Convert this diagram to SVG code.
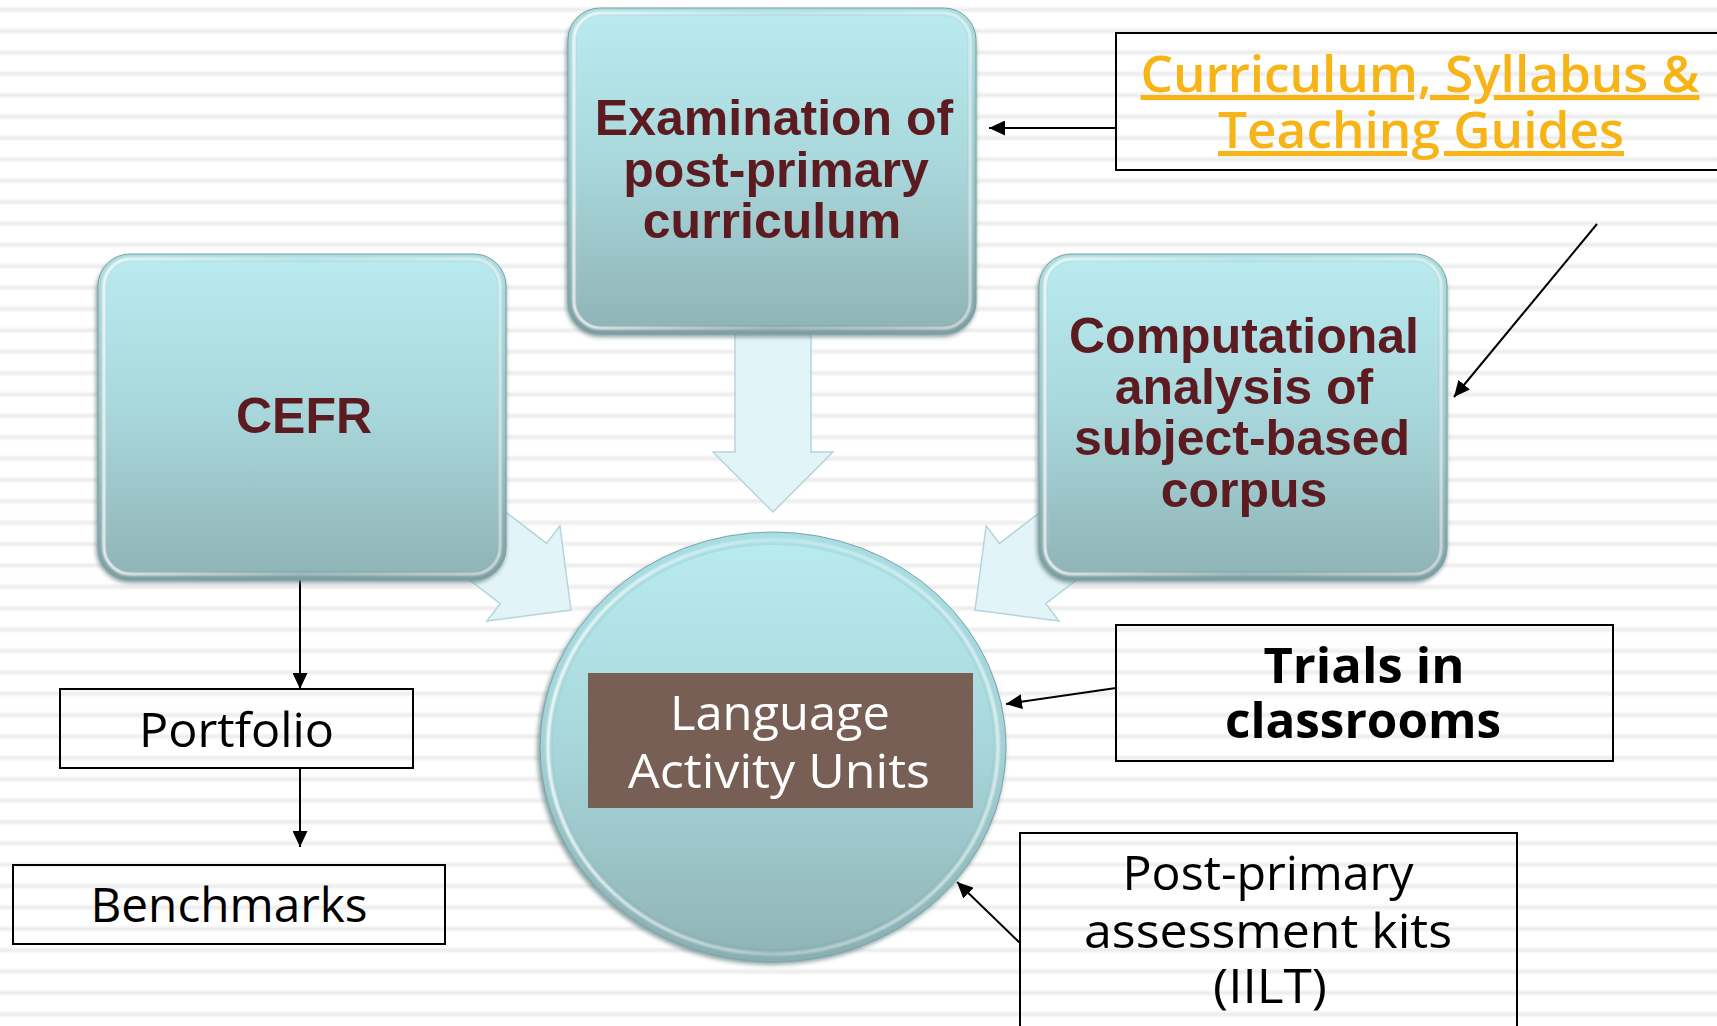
<svg xmlns="http://www.w3.org/2000/svg" width="1717" height="1026" viewBox="0 0 1717 1026">
  <defs>
    <style>
      .tileText { font-family: "Liberation Sans", Arial, sans-serif; font-weight: bold; font-size: 50px; fill: #5b1b20; text-anchor: middle; }
      .plain { font-family: "Open Sans", "DejaVu Sans", sans-serif; font-size: 48px; fill: #000; text-anchor: middle; }
      .bold { font-weight: bold; }
      .unitText { font-family: "Open Sans", "DejaVu Sans", sans-serif; font-size: 48px; fill: #ffffff; text-anchor: middle; }
      .link { font-family: "Open Sans", "DejaVu Sans", sans-serif; font-weight: 600; font-size: 51px; fill: #f6b416; text-anchor: middle; text-decoration: underline; }
      .frame { fill: none; stroke: #000; stroke-width: 2; }
      .wire { fill: none; stroke: #000; stroke-width: 2; marker-end: url(#arrowhead); }
      .flow { fill: #e2f4f7; stroke: #b2d6db; stroke-width: 1.5; stroke-linejoin: miter; }
    </style>

    <!-- background ruling -->
    <linearGradient id="stripeGrad" x1="0" y1="0" x2="0" y2="1">
      <stop offset="0" stop-color="#ffffff"/>
      <stop offset="0.5" stop-color="#ebebeb"/>
      <stop offset="1" stop-color="#ffffff"/>
    </linearGradient>
    <pattern id="stripes" patternUnits="userSpaceOnUse" x="0" y="0" width="1717" height="21.375">
      <rect width="1717" height="21.375" fill="#ffffff"/>
      <rect y="6" width="1717" height="7.4" fill="url(#stripeGrad)"/>
    </pattern>

    <!-- bevelled tile colours -->
    <linearGradient id="face" x1="0" y1="0" x2="0" y2="1">
      <stop offset="0" stop-color="#b8eaef"/>
      <stop offset="0.45" stop-color="#aad9dd"/>
      <stop offset="1" stop-color="#90b5b8"/>
    </linearGradient>
    <linearGradient id="rim" x1="0" y1="0" x2="0" y2="1">
      <stop offset="0" stop-color="#a9dde2"/>
      <stop offset="0.6" stop-color="#97c2c6"/>
      <stop offset="1" stop-color="#7c9ea1"/>
    </linearGradient>
    <linearGradient id="shine" x1="0" y1="0" x2="1" y2="0">
      <stop offset="0" stop-color="#ffffff" stop-opacity="0.95"/>
      <stop offset="0.5" stop-color="#ffffff" stop-opacity="0.35"/>
      <stop offset="1" stop-color="#ffffff" stop-opacity="0.7"/>
    </linearGradient>
    <linearGradient id="rimRound" x1="0" y1="0" x2="0" y2="1">
      <stop offset="0" stop-color="#a8dfe4"/>
      <stop offset="0.5" stop-color="#a3d2d6"/>
      <stop offset="1" stop-color="#88aeb1"/>
    </linearGradient>
    <filter id="blur1" x="-5%" y="-5%" width="110%" height="110%">
      <feGaussianBlur stdDeviation="1.2"/>
    </filter>
    <filter id="blur2" x="-5%" y="-5%" width="110%" height="110%">
      <feGaussianBlur stdDeviation="2"/>
    </filter>

    <!-- reusable rounded tile, 408 x 326 -->
    <g id="tile">
      <rect x="-2" y="3" width="410" height="326" rx="34" fill="#5f7f82" opacity="0.75" filter="url(#blur2)"/>
      <rect width="408" height="326" rx="32" fill="url(#rim)" stroke="#7f9fa2" stroke-width="1"/>
      <rect x="9" y="8" width="390" height="309" rx="24" fill="url(#face)"/>
      <rect x="6" y="5" width="396" height="315" rx="27" fill="none" stroke="url(#shine)" stroke-width="3" filter="url(#blur1)"/>
    </g>

    <marker id="arrowhead" viewBox="0 0 16 15" refX="16" refY="7.5" markerWidth="16" markerHeight="15" markerUnits="userSpaceOnUse" orient="auto">
      <path d="M0,0 L16,7.5 L0,15 Z" fill="#000"/>
    </marker>
  </defs>

  <rect width="1717" height="1026" fill="url(#stripes)"/>

  <g id="connectors">
    <!-- broad flow arrows into the central unit -->
    <polygon class="flow" points="735,320 811,320 811,452 833,452 773,512 713,452 735,452"/>
    <polygon class="flow" points="341.7,481.8 388,421.6 546.5,543.4 559.9,525.9 571,610 486.9,621.1 500.3,603.6"/>
    <polygon class="flow" points="1204.3,481.8 1158,421.6 999.5,543.4 986.1,525.9 975,610 1059.1,621.1 1045.7,603.6"/>

    <!-- thin pointer lines -->
    <line class="wire" x1="1116" y1="128" x2="989" y2="128"/>
    <line class="wire" x1="1597" y1="224" x2="1454" y2="397"/>
    <line class="wire" x1="300" y1="580" x2="300" y2="689"/>
    <line class="wire" x1="300" y1="768" x2="300" y2="847"/>
    <line class="wire" x1="1116" y1="688" x2="1006" y2="704"/>
    <line class="wire" x1="1020" y1="943" x2="957" y2="882"/>
  </g>

  <g id="node-exam">
    <use href="#tile" x="568" y="8"/>
    <text class="tileText" x="774" y="135">Examination of</text>
    <text class="tileText" x="776" y="187">post-primary</text>
    <text class="tileText" x="772" y="238">curriculum</text>
  </g>

  <g id="node-cefr">
    <use href="#tile" x="98" y="254"/>
    <text class="tileText" x="304" y="433">CEFR</text>
  </g>

  <g id="node-corpus">
    <use href="#tile" x="1039" y="254"/>
    <text class="tileText" x="1244" y="353">Computational</text>
    <text class="tileText" x="1244" y="404">analysis of</text>
    <text class="tileText" x="1242" y="455">subject-based</text>
    <text class="tileText" x="1244" y="507">corpus</text>
  </g>

  <g id="node-units">
    <ellipse cx="771" cy="750" rx="234" ry="215" fill="#5f7f82" opacity="0.7" filter="url(#blur2)"/>
    <ellipse cx="773" cy="747" rx="233" ry="215" fill="url(#rimRound)" stroke="#7fa3a6" stroke-width="1"/>
    <ellipse cx="773" cy="747" rx="220" ry="202" fill="url(#face)"/>
    <ellipse cx="773" cy="747" rx="225" ry="207" fill="none" stroke="url(#shine)" stroke-width="3" filter="url(#blur1)"/>
    <rect x="588" y="673" width="385" height="135" fill="#785f55"/>
    <text class="unitText" x="780" y="730" textLength="220" lengthAdjust="spacingAndGlyphs">Language</text>
    <text class="unitText" x="779" y="788" textLength="302" lengthAdjust="spacingAndGlyphs">Activity Units</text>
  </g>

  <g id="node-curriculum">
    <rect class="frame" x="1116" y="33" width="620" height="137"/>
    <text class="link" x="1420" y="92" textLength="559" lengthAdjust="spacingAndGlyphs">Curriculum, Syllabus &amp;</text>
    <text class="link" x="1421" y="148" textLength="406" lengthAdjust="spacingAndGlyphs">Teaching Guides</text>
  </g>

  <g id="node-portfolio">
    <rect class="frame" x="60" y="689" width="353" height="79"/>
    <text class="plain" x="236.5" y="747" textLength="195" lengthAdjust="spacingAndGlyphs">Portfolio</text>
  </g>

  <g id="node-benchmarks">
    <rect class="frame" x="13" y="865" width="432" height="79"/>
    <text class="plain" x="229" y="922" textLength="277" lengthAdjust="spacingAndGlyphs">Benchmarks</text>
  </g>

  <g id="node-trials">
    <rect class="frame" x="1116" y="625" width="497" height="136"/>
    <text class="plain bold" x="1364" y="683" textLength="201" lengthAdjust="spacingAndGlyphs">Trials in</text>
    <text class="plain bold" x="1363" y="738" textLength="276" lengthAdjust="spacingAndGlyphs">classrooms</text>
  </g>

  <g id="node-kits">
    <rect class="frame" x="1020" y="833" width="497" height="210"/>
    <text class="plain" x="1268" y="890" textLength="291" lengthAdjust="spacingAndGlyphs">Post-primary</text>
    <text class="plain" x="1268" y="948" textLength="368" lengthAdjust="spacingAndGlyphs">assessment kits</text>
    <text class="plain" x="1270" y="1003" textLength="114" lengthAdjust="spacingAndGlyphs">(IILT)</text>
  </g>
</svg>
